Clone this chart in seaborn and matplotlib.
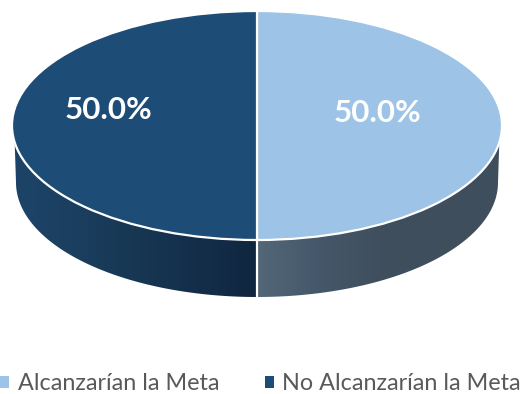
import numpy as np
import matplotlib
matplotlib.use("Agg")
import matplotlib.pyplot as plt
from matplotlib.patches import Polygon
from matplotlib.colors import LinearSegmentedColormap
import seaborn as sns

categories = ["Alcanzarían la Meta", "No Alcanzarían la Meta"]
values = [50.0, 50.0]
slice_colors = ["#9DC3E6", "#1D4C77"]

sns.set_theme(style="white")
plt.rcParams["font.family"] = ["Lato", "DejaVu Sans"]

W, H = 523, 394
CX, CY, RX, RY = 257, 125.5, 245, 114.5
fig = plt.figure(figsize=(W / 100, H / 100), dpi=100)
ax = fig.add_axes([0, 0, 1, 1])

sx = lambda p: (p - CX) / RX
sy = lambda p: (CY - p) / RY

wedges, _, autotexts = ax.pie(
    values, colors=slice_colors, startangle=90, counterclock=False, radius=1,
    autopct=lambda p: f"{p:.1f}%", textprops=dict(color="white"),
    wedgeprops=dict(edgecolor="white", linewidth=1.6),
)
for w in wedges:
    w.set_zorder(5)
ax.set_aspect("auto")
xlim = (sx(0), sx(W))
ylim = (sy(H), sy(0))

for t, (px, py) in zip(autotexts, [(377, 113), (108, 110)]):
    t.set_position((sx(px), sy(py)))
    t.set_fontsize(22.6)
    t.set_fontweight("bold")
    t.set_ha("center")
    t.set_va("center")
    t.set_zorder(6)

# Side walls of the front half of the disc, following the slice boundaries
depth = 57 / RY
bottom_scale = 241 / 245
front_start, front_end = 180.0, 360.0
split = 270.0
wall_styles = [
    (["#546779", "#45576A", "#3F4F5E", "#3F4E5C", "#3F4E5C"], split, front_end),
    (["#1D4468", "#1B3F60", "#173753", "#142E4A", "#10263F"], front_start, split),
]
for stops, a0, a1 in wall_styles:
    lip = 8.5
    top_a = np.radians(np.linspace(a0 + (lip if a0 == front_start else 0),
                                   a1 - (lip if a1 == front_end else 0), 90))
    bot_a = np.radians(np.linspace(a1, a0, 90))
    pts = np.vstack([
        np.column_stack([np.cos(top_a), np.sin(top_a)]),
        np.column_stack([bottom_scale * np.cos(bot_a), np.sin(bot_a) - depth]),
    ])
    poly = Polygon(pts, closed=True, facecolor="none", edgecolor="none",
                   transform=ax.transData)
    ax.add_patch(poly)
    cmap = LinearSegmentedColormap.from_list("wall", stops)
    x0, x1 = np.cos(np.radians(a0)), np.cos(np.radians(a1))
    im = ax.imshow(np.linspace(0, 1, 256)[None, :], cmap=cmap, aspect="auto",
                   extent=(min(x0, x1), max(x0, x1), -1 - depth - 0.05, 0.2),
                   zorder=2, interpolation="bilinear")
    im.set_clip_path(poly)

ax.plot([0, 0], [-1, -1 - depth], color="white", lw=1.6, zorder=3,
        solid_capstyle="butt")

ax.set_xlim(*xlim)
ax.set_ylim(*ylim)
ax.axis("off")

leg = ax.legend(
    wedges, categories, ncol=2, frameon=False, loc="center left",
    bbox_to_anchor=(0.0, (H - 383.5) / H), bbox_transform=ax.transAxes,
    fontsize=16.8, labelcolor="#595959", handlelength=0.4, handleheight=0.4,
    handletextpad=0.37, columnspacing=1.93, borderpad=0, borderaxespad=0,
)
for h in leg.legend_handles:
    h.set_edgecolor("none")

fig.savefig("out.png", dpi=100, facecolor="white")
